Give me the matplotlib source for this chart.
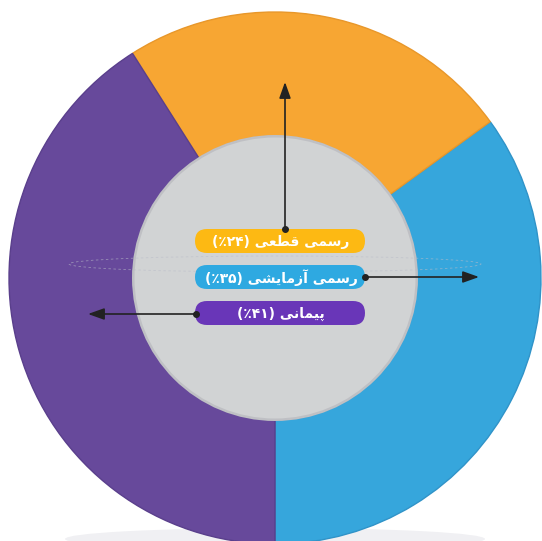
import matplotlib
matplotlib.use("Agg")
import matplotlib.pyplot as plt
from matplotlib.patches import Circle, FancyBboxPatch, Ellipse

# slices, counter-clockwise from the bottom
shares = [35, 24, 41]
slice_colors = ["#36a6dc", "#f7a633", "#67499b"]
edge_colors = ["#3093c8", "#e8972a", "#5a3f8c"]

# labels in the centre (visual order, presentation forms for the Persian text)
RASMI = "\ufef0\ufee4\ufeb3\ufead"
label_texts = [
    "(\u066a\u06f2\u06f4) " + "\ufef0\ufecc\ufec4\ufed7" + " " + RASMI,
    "(\u066a\u06f3\u06f5) " + "\ufef0\ufeb8\ufef3\ufe8e\ufee3\ufeaf\ufe81" + " " + RASMI,
    "(\u066a\u06f4\u06f1) " + "\ufef0\ufee7\ufe8e\ufee4\ufef4\ufb58",
]
label_colors = ["#fdb913", "#2ea9e1", "#6936b8"]

W, H = 542, 541
cx, cy = 275, H - 278
R_out, R_in = 266, 142

fig = plt.figure(figsize=(W / 100, H / 100), dpi=100)
ax = fig.add_axes([0, 0, 1, 1])

# faint shadow under the ring
ax.add_patch(Ellipse((cx, 2), 420, 22, fc="#f0f0f3", ec="none", zorder=0))

wedges, _ = ax.pie(shares, colors=slice_colors, startangle=-90, counterclock=True,
                   center=(cx, cy), radius=R_out,
                   wedgeprops=dict(width=R_out - R_in, linewidth=0))
for w, ec in zip(wedges, edge_colors):
    w.set_edgecolor(ec)
    w.set_linewidth(1.0)
    w.set_zorder(1)

# soft shadow of the ring on the grey disk
ax.add_patch(Circle((cx, cy), R_in + 1, facecolor="#bfc0c4", lw=0, zorder=2))
ax.add_patch(Circle((cx, cy), R_in - 1.5, facecolor="#d1d3d4", lw=0, zorder=3))

# faint dashed ellipse
ax.add_patch(Ellipse((cx, H - 264), 412, 16, fill=False, ls=(0, (3, 3)),
                     ec="#b9bcc8", lw=0.6, alpha=0.6, zorder=3))

# label boxes
box_x0, box_x1 = 195, 365
box_h = 24
box_cy = [241, 277, 313]
for txt, col, py in zip(label_texts, label_colors, box_cy):
    y = H - py
    ax.add_patch(FancyBboxPatch((box_x0, y - box_h / 2), box_x1 - box_x0, box_h,
                                boxstyle="round,pad=0,rounding_size=12",
                                fc=col, ec="none", zorder=5))
    ax.text((box_x0 + box_x1) / 2 + 1, y - 1, txt, color="white", fontsize=10,
            fontweight="bold", ha="center", va="center", zorder=6,
            family=["DejaVu Sans"])

# arrows from labels into the slices
arrows = [((285, 229), (285, 82)), ((365, 277), (479, 277)), ((196, 314), (88, 314))]
for (x0, y0), (x1, y1) in arrows:
    ax.annotate("", xy=(x1, H - y1), xytext=(x0, H - y0),
                arrowprops=dict(arrowstyle="-|>,head_length=0.7,head_width=0.25",
                                color="#222222", lw=1.2,
                                mutation_scale=14, shrinkA=0, shrinkB=0),
                zorder=7)
    ax.plot([x0], [H - y0], "o", color="#222222", ms=4, zorder=8)

ax.set_xlim(0, W)
ax.set_ylim(0, H)
ax.set_aspect("equal")
ax.axis("off")
fig.savefig("out.png", dpi=100, facecolor="white")
